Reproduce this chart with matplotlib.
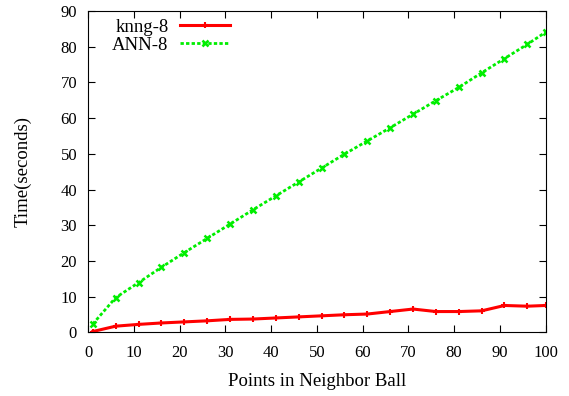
import matplotlib
matplotlib.use('Agg')
import matplotlib.pyplot as plt

plt.rcParams['font.family'] = ['Liberation Serif', 'DejaVu Serif']

# Points in neighbor ball
pts = [1, 6, 11, 16, 21, 26, 31, 36, 41, 46, 51, 56, 61, 66, 71, 76, 81, 86, 91, 96, 100]
knng = [0.2, 1.7, 2.2, 2.6, 2.9, 3.2, 3.6, 3.7, 4.0, 4.3, 4.6, 4.9, 5.1, 5.8, 6.5,
        5.8, 5.8, 6.0, 7.5, 7.3, 7.5]
ann = [2.3, 9.7, 13.9, 18.2, 22.3, 26.3, 30.3, 34.3, 38.2, 42.1, 46.0, 49.9, 53.6,
       57.3, 61.1, 64.9, 68.6, 72.7, 76.7, 80.7, 84.1]
xticks = list(range(0, 101, 10))
yticks = list(range(0, 91, 10))

fig = plt.figure(figsize=(5.69, 3.96), dpi=100)
ax = fig.add_axes([0.155, 0.161, 0.804, 0.811])

ax.plot(pts, knng, color='#ff0000', lw=2.2, marker='+', ms=5, mew=1.5, label='knng-8')
ax.plot(pts, ann, color='#00ee00', lw=2.0, ls=(0, (1.2, 0.8)), marker='x', ms=5, mew=1.8,
        label='ANN-8')

ax.set_xlim(0, 100)
ax.set_ylim(0, 90)
ax.set_xticks(xticks)
ax.set_yticks(yticks)
ax.tick_params(direction='in', top=True, right=True, labelsize=12, length=5)
ax.tick_params(axis='x', pad=9)
ax.tick_params(axis='y', pad=8)
ax.set_xlabel('Points in Neighbor Ball', fontsize=13.5, labelpad=9)
ax.set_ylabel('Time(seconds)', fontsize=13.5, labelpad=21)

ax.legend(loc='upper left', frameon=False, markerfirst=False, fontsize=13.5,
          handlelength=2.7, handletextpad=0.6, labelspacing=0.05,
          borderaxespad=0.0, bbox_to_anchor=(0.036, 1.0))

fig.savefig('out.png', dpi=100)
